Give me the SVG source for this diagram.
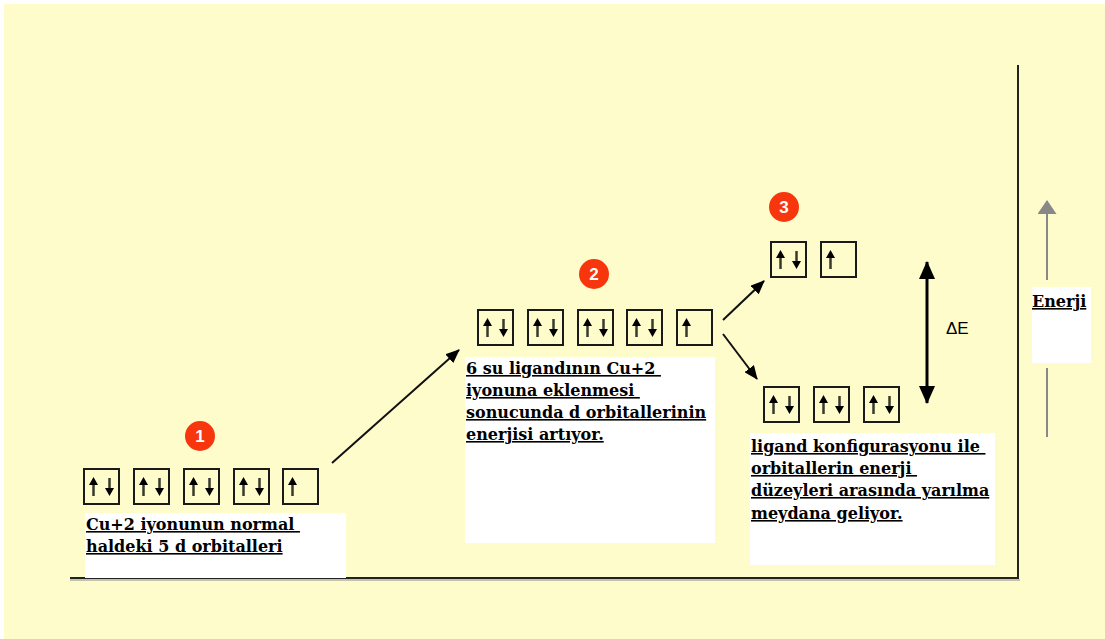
<svg xmlns="http://www.w3.org/2000/svg" width="1105" height="639" viewBox="0 0 1105 639">
<style>
.box{fill:none;stroke:#1a1a1a;stroke-width:2}
.lbl{font-family:"DejaVu Serif","Liberation Serif",serif;font-weight:bold;font-size:16px;fill:#000;text-decoration:underline}
.num{font-family:"Liberation Sans",Arial,sans-serif;font-weight:bold;font-size:17px;fill:#fff;text-anchor:middle}
.badge{fill:#F8360E}
.conn{stroke:#111;stroke-width:2;fill:none}
.panel{fill:#fff}
</style>
<defs>
<g id="up"><rect x="-1.25" y="14" width="2.5" height="13" fill="#3a3a2a"/><polygon points="0,8 -4.5,16 4.5,16" fill="#000"/></g>
<g id="dn"><rect x="-1.25" y="9" width="2.5" height="12" fill="#3a3a2a"/><polygon points="0,27 -4.5,19 4.5,19" fill="#000"/></g>
<g id="pair"><rect class="box" x="0" y="0" width="35" height="35"/><use href="#up" x="9.5" y="0"/><use href="#dn" x="25.5" y="0"/></g>
<g id="single"><rect class="box" x="0" y="0" width="35" height="35"/><use href="#up" x="9.5" y="0"/></g>
<marker id="ah" viewBox="0 0 14 12" refX="13" refY="6" markerWidth="14" markerHeight="12" markerUnits="userSpaceOnUse" orient="auto"><path d="M0,0 L14,6 L0,12 z" fill="#000"/></marker>
<marker id="ahb" viewBox="0 0 18 16" refX="17" refY="8" markerWidth="18" markerHeight="16" markerUnits="userSpaceOnUse" orient="auto-start-reverse"><path d="M0,0 L18,8 L0,16 z" fill="#000"/></marker>
<marker id="ahg" viewBox="0 0 14 19" refX="13" refY="9.5" markerWidth="14" markerHeight="19" markerUnits="userSpaceOnUse" orient="auto"><path d="M0,0 L14,9.5 L0,19 z" fill="#888"/></marker>
</defs>
<rect x="0" y="0" width="1105" height="639" fill="#fff"/>
<rect x="4" y="4" width="1101" height="635" fill="#FFFCCC"/>
<g id="axes">
<line x1="70" y1="580" x2="1020" y2="580" stroke="#888" stroke-width="1"/>
<line x1="70" y1="578" x2="1019" y2="578" stroke="#222" stroke-width="2"/>
<line x1="1018" y1="65" x2="1018" y2="579" stroke="#222" stroke-width="2"/>
</g>
<g id="level1">
<rect class="panel" x="85" y="513" width="261" height="65"/>
<circle class="badge" cx="200" cy="436" r="15"/>
<text class="num" x="200" y="442">1</text>
<use href="#pair" x="84" y="469"/>
<use href="#pair" x="134" y="469"/>
<use href="#pair" x="184" y="469"/>
<use href="#pair" x="234" y="469"/>
<use href="#single" x="283" y="469"/>
<text class="lbl" x="86" y="530" xml:space="preserve">Cu+2 iyonunun normal </text>
<text class="lbl" x="86" y="552">haldeki 5 d orbitalleri</text>
</g>
<g id="level2">
<rect class="panel" x="465" y="357" width="250" height="186"/>
<circle class="badge" cx="594" cy="274" r="15"/>
<text class="num" x="594" y="280">2</text>
<use href="#pair" x="478" y="310"/>
<use href="#pair" x="528" y="310"/>
<use href="#pair" x="578" y="310"/>
<use href="#pair" x="627" y="310"/>
<use href="#single" x="677" y="310"/>
<text class="lbl" x="466" y="374" xml:space="preserve">6 su ligandının Cu+2 </text>
<text class="lbl" x="466" y="396" xml:space="preserve">iyonuna eklenmesi </text>
<text class="lbl" x="466" y="418">sonucunda d orbitallerinin</text>
<text class="lbl" x="466" y="440">enerjisi artıyor.</text>
</g>
<g id="level3">
<rect class="panel" x="750" y="433" width="245" height="132"/>
<circle class="badge" cx="784" cy="207" r="15"/>
<text class="num" x="784" y="213">3</text>
<use href="#pair" x="771" y="242"/>
<use href="#single" x="821" y="242"/>
<use href="#pair" x="764" y="387"/>
<use href="#pair" x="814" y="387"/>
<use href="#pair" x="864" y="387"/>
<text class="lbl" x="751" y="452" xml:space="preserve">ligand konfigurasyonu ile </text>
<text class="lbl" x="751" y="474" xml:space="preserve">orbitallerin enerji </text>
<text class="lbl" x="751" y="496">düzeyleri arasında yarılma</text>
<text class="lbl" x="751" y="519">meydana geliyor.</text>
</g>
<g id="deltaE">
<line x1="927" y1="262" x2="927" y2="403" stroke="#000" stroke-width="3" marker-start="url(#ahb)" marker-end="url(#ahb)"/>
<text x="946" y="334" font-family="Liberation Sans,Arial,sans-serif" font-size="17" fill="#000">ΔE</text>
</g>
<g id="energy">
<line x1="1047" y1="437" x2="1047" y2="368" stroke="#888" stroke-width="2"/>
<line x1="1047" y1="280" x2="1047" y2="201" stroke="#888" stroke-width="2" marker-end="url(#ahg)"/>
<rect class="panel" x="1032" y="287" width="59" height="76"/>
<text class="lbl" x="1032" y="307">Enerji</text>
</g>
<g id="connectors">
<line class="conn" x1="332" y1="463" x2="459" y2="350" marker-end="url(#ah)"/>
<line class="conn" x1="723" y1="320" x2="764" y2="281" marker-end="url(#ah)"/>
<line class="conn" x1="723" y1="334" x2="757" y2="379" marker-end="url(#ah)"/>
</g>
</svg>
